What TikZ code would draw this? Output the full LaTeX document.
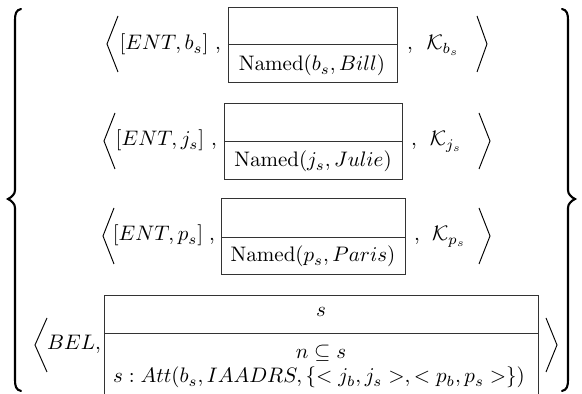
\documentclass[tikz,border=0pt]{standalone}
\usepackage{amssymb}
\begin{document}
\begin{tikzpicture}[x=0.476pt,y=-0.476pt,
  drsbox/.style={draw=black!80, line width=0.45pt},
  bracket/.style={line width=0.45pt, line join=miter},
  curly/.style={line width=1pt, line cap=round},
  txt/.style={inner sep=0pt, anchor=base}]
\useasboundingbox (0,0) rectangle (582,394);

% outer set braces
\draw[curly] (21,9) .. controls (16,10) and (15,14) .. (15,20) -- (15,190)
  .. controls (15,194) and (12,197) .. (8,199) .. controls (12,201) and (15,204) .. (15,208)
  -- (15,380) .. controls (15,386) and (16,390) .. (21,391);
\draw[curly] (562,9) .. controls (567,10) and (568,14) .. (568,20) -- (568,190)
  .. controls (568,194) and (571,197) .. (575,199) .. controls (571,201) and (568,204) .. (568,208)
  -- (568,380) .. controls (568,386) and (567,390) .. (562,391);

% ---- referent b_s
\draw[bracket] (118,16) -- (107,44) -- (118,72);
\node[txt] (e1) at (164,50) {$[ENT, b_s]$};
\node[txt] (ca1) at (218,50) {,};
\draw[drsbox] (228,7) rectangle (397,82);
\draw[drsbox] (228,44) -- (397,44);
\node[txt] (n1) at (312,71) {$\mathrm{Named}(b_s, Bill)$};
\node[txt] (cb1) at (410,50) {,};
\node[txt] (k1) at (443,50) {$\mathcal{K}_{b_s}$};
\draw[bracket] (477,16) -- (487,44) -- (477,72);

% ---- referent j_s
\draw[bracket] (115,113) -- (104,141) -- (115,169);
\node[txt] (e2) at (160,146) {$[ENT, j_s]$};
\node[txt] (ca2) at (214,146) {,};
\draw[drsbox] (224,103) rectangle (402,179);
\draw[drsbox] (224,141) -- (402,141);
\node[txt] (n2) at (313,167) {$\mathrm{Named}(j_s, Julie)$};
\node[txt] (cb2) at (414,146) {,};
\node[txt] (k2) at (446,146) {$\mathcal{K}_{j_s}$};
\draw[bracket] (479,113) -- (490,141) -- (479,169);

% ---- referent p_s
\draw[bracket] (114,208) -- (103,236) -- (114,264);
\node[txt] (e3) at (158,241) {$[ENT, p_s]$};
\node[txt] (ca3) at (212,241) {,};
\draw[drsbox] (221,198) rectangle (405,274);
\draw[drsbox] (221,237) -- (405,237);
\node[txt] (n3) at (313,262) {$\mathrm{Named}(p_s, Paris)$};
\node[txt] (cb3) at (417,241) {,};
\node[txt] (k3) at (449,241) {$\mathcal{K}_{p_s}$};
\draw[bracket] (479,208) -- (490,236) -- (479,264);

% ---- belief
\draw[bracket] (47,318) -- (35,345) -- (47,372);
\node[txt] (bel) at (74,350) {$BEL,$};
\draw[drsbox] (104,394) -- (104,295) -- (538,295) -- (538,394);
\draw[drsbox] (104,333) -- (538,333);
\node[txt] (s) at (321,317) {$s$};
\node[txt] (sub) at (321,359) {$n \subseteq s$};
\node[txt] (att) at (319,383) {$s : Att(b_s, IAADRS, \{<j_b, j_s>, <p_b, p_s>\})$};
\draw[bracket] (546,318) -- (557,345) -- (546,372);
\end{tikzpicture}
\end{document}
